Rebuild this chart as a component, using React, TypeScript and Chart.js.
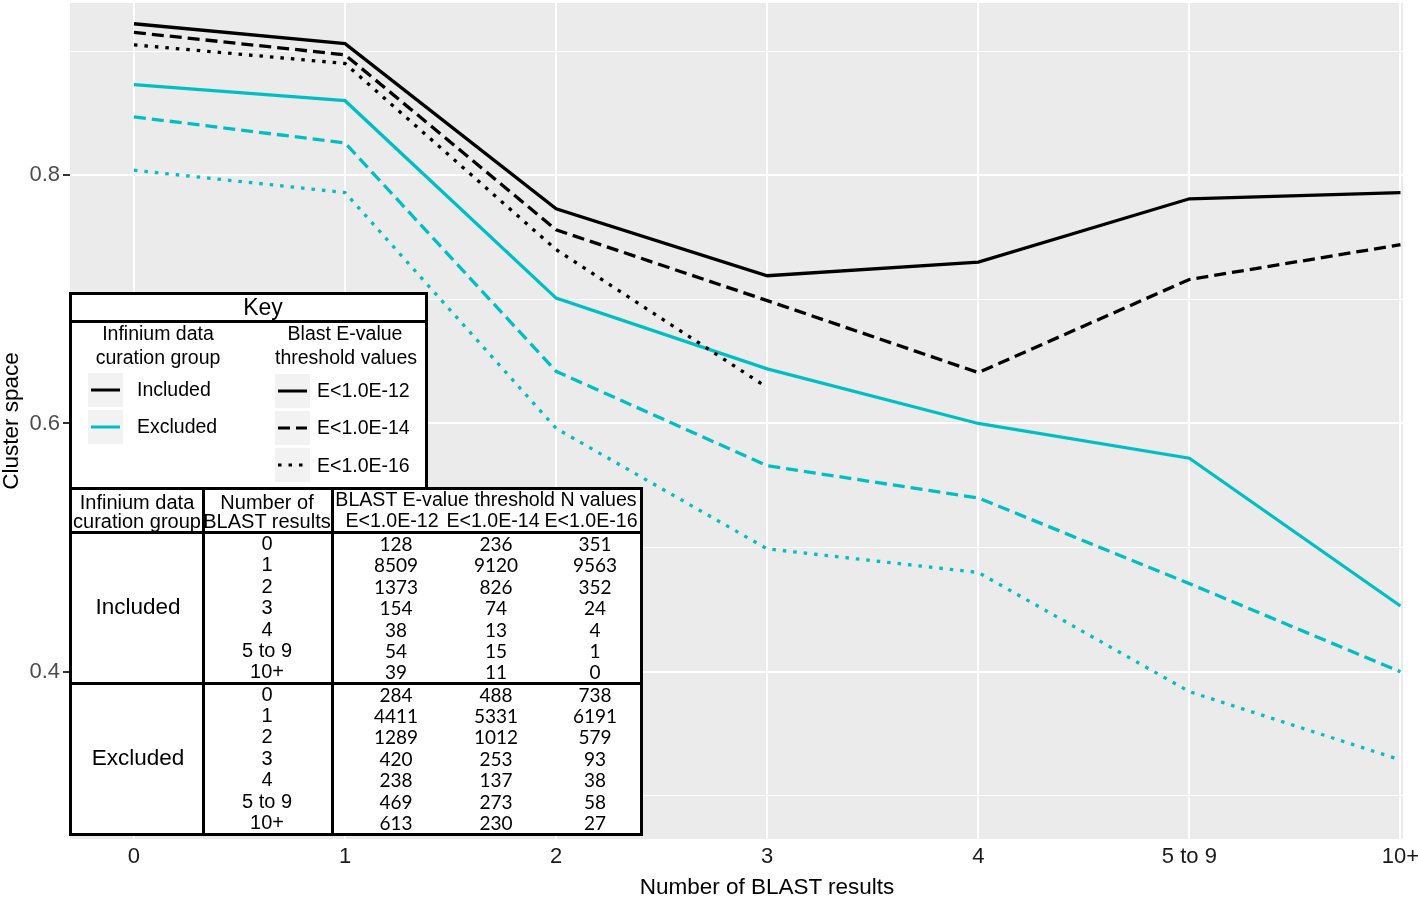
import React, { useEffect, useRef } from "react";
import { Chart, registerables } from "chart.js";

Chart.register(...registerables);

// ---------- data ----------
const categories = ["0", "1", "2", "3", "4", "5 to 9", "10+"];
const includedE12 = [0.922, 0.906, 0.773, 0.719, 0.73, 0.781, 0.786];
const includedE14 = [0.915, 0.897, 0.756, 0.699, 0.641, 0.716, 0.744];
const includedE16 = [0.905, 0.89, 0.74, 0.629, null, null, null];
const excludedE12 = [0.873, 0.86, 0.701, 0.644, 0.6, 0.572, 0.453];
const excludedE14 = [0.847, 0.826, 0.642, 0.566, 0.54, 0.471, 0.4];
const excludedE16 = [0.804, 0.786, 0.596, 0.499, 0.48, 0.384, 0.329];

const yGridValues = [0.3, 0.4, 0.5, 0.6, 0.7, 0.8, 0.9];
const yLabelValues = [0.4, 0.6, 0.8];

const xAxisTitle = "Number of BLAST results";
const yAxisTitle = "Cluster space";

const thresholdLabels = ["E<1.0E-12", "E<1.0E-14", "E<1.0E-16"];
const groupLabels = ["Included", "Excluded"];

const includedN12 = [128, 8509, 1373, 154, 38, 54, 39];
const includedN14 = [236, 9120, 826, 74, 13, 15, 11];
const includedN16 = [351, 9563, 352, 24, 4, 1, 0];
const excludedN12 = [284, 4411, 1289, 420, 238, 469, 613];
const excludedN14 = [488, 5331, 1012, 253, 137, 273, 230];
const excludedN16 = [738, 6191, 579, 93, 38, 58, 27];

// ---------- styles ----------
const BLACK = "#000000";
const CYAN = "#00BFC4";
const ARIAL = "'Liberation Sans', Arial, sans-serif";
const NUMFONT = "Lato, 'Noto Sans', sans-serif";
const DASHED = [12, 6];
const DOTTED = [3.5, 7];

const toPoints = (arr: (number | null)[]) => arr.map((v, i) => ({ x: i, y: v }));

const isLabeled = (v: number) => yLabelValues.some((l) => Math.abs(l - v) < 1e-9);

function T(props: {
  x: number;
  y: number;
  size: number;
  children: React.ReactNode;
  anchor?: "middle" | "start";
  family?: string;
  color?: string;
}) {
  const { x, y, size, children, anchor = "middle", family = ARIAL, color = "#000" } = props;
  return (
    <div
      style={{
        position: "absolute",
        left: x,
        top: y,
        transform: anchor === "middle" ? "translate(-50%, -50%)" : "translate(0, -50%)",
        fontFamily: family,
        fontSize: size,
        lineHeight: 1,
        whiteSpace: "nowrap",
        color,
      }}
    >
      {children}
    </div>
  );
}

function Box(props: { l: number; t: number; w: number; h: number; bg: string }) {
  return (
    <div
      style={{
        position: "absolute",
        left: props.l,
        top: props.t,
        width: props.w,
        height: props.h,
        background: props.bg,
      }}
    />
  );
}

function KeySwatch(props: { l: number; t: number; color: string; dash?: number[] }) {
  return (
    <div style={{ position: "absolute", left: props.l, top: props.t, width: 35, height: 34, background: "#F2F2F2" }}>
      <svg width={35} height={34} style={{ position: "absolute", left: 0, top: 0 }}>
        <line
          x1={3}
          y1={17}
          x2={32}
          y2={17}
          stroke={props.color}
          strokeWidth={3}
          strokeDasharray={props.dash ? props.dash.join(" ") : undefined}
        />
      </svg>
    </div>
  );
}

function Overlay() {
  const rowY0 = 543;
  const rowStep = 21.4;
  const groupOffset = 150.5;
  const numX = [396, 496, 595];
  const groups = [
    [includedN12, includedN14, includedN16],
    [excludedN12, excludedN14, excludedN16],
  ];
  return (
    <div style={{ position: "absolute", left: 0, top: 0, width: 1418, height: 898 }}>
      <T x={767} y={887} size={22.5}>{xAxisTitle}</T>

      {/* Key box */}
      <div
        style={{
          position: "absolute",
          left: 69,
          top: 292,
          width: 359,
          height: 198,
          boxSizing: "border-box",
          border: "3px solid #000",
          background: "#fff",
        }}
      />
      <Box l={69} t={320} w={359} h={2.5} bg="#000" />
      <T x={263} y={307} size={23}>Key</T>
      <T x={158} y={334} size={19.5}>Infinium data</T>
      <T x={158} y={358} size={19.5}>curation group</T>
      <T x={345} y={334} size={19.5}>Blast E-value</T>
      <T x={346} y={358} size={19.5}>threshold values</T>
      <KeySwatch l={88} t={373} color={BLACK} />
      <KeySwatch l={88} t={410} color={CYAN} />
      <T x={137} y={390} size={19.5} anchor="start">{groupLabels[0]}</T>
      <T x={137} y={427} size={19.5} anchor="start">{groupLabels[1]}</T>
      <KeySwatch l={275} t={374} color={BLACK} />
      <KeySwatch l={275} t={411} color={BLACK} dash={DASHED} />
      <KeySwatch l={275} t={448} color={BLACK} dash={DOTTED} />
      <T x={317} y={391} size={19.5} anchor="start">{thresholdLabels[0]}</T>
      <T x={317} y={428} size={19.5} anchor="start">{thresholdLabels[1]}</T>
      <T x={317} y={466} size={19.5} anchor="start">{thresholdLabels[2]}</T>

      {/* N table */}
      <div
        style={{
          position: "absolute",
          left: 69,
          top: 487,
          width: 574,
          height: 349,
          boxSizing: "border-box",
          border: "3px solid #000",
          background: "#fff",
        }}
      />
      <Box l={69} t={531} w={574} h={2.5} bg="#000" />
      <Box l={69} t={682} w={574} h={2.5} bg="#000" />
      <Box l={202} t={487} w={2.5} h={349} bg="#000" />
      <Box l={331} t={487} w={2.5} h={349} bg="#000" />
      <T x={137} y={502} size={20}>Infinium data</T>
      <T x={137} y={521} size={20}>curation group</T>
      <T x={267} y={502} size={20}>Number of</T>
      <T x={267} y={521} size={20}>BLAST results</T>
      <T x={486} y={500} size={19.6}>BLAST E-value threshold N values</T>
      {thresholdLabels.map((t, i) => (
        <T key={t} x={[392, 493, 591][i]} y={521} size={19.6}>
          {t}
        </T>
      ))}
      {groups.map((cols, g) => (
        <React.Fragment key={g}>
          <T x={138} y={rowY0 + g * groupOffset + 3 * rowStep} size={22.5}>
            {groupLabels[g]}
          </T>
          {categories.map((c, r) => (
            <React.Fragment key={c}>
              <T x={267} y={rowY0 + g * groupOffset + r * rowStep} size={20}>
                {c}
              </T>
              {cols.map((col, k) => (
                <T key={k} x={numX[k]} y={rowY0 + g * groupOffset + r * rowStep} size={19} family={NUMFONT}>
                  {String(col[r])}
                </T>
              ))}
            </React.Fragment>
          ))}
        </React.Fragment>
      ))}
    </div>
  );
}

const panelBg = {
  id: "panelBg",
  beforeDraw(chart: any) {
    const { ctx, chartArea, width, height } = chart;
    ctx.save();
    ctx.fillStyle = "#ffffff";
    ctx.fillRect(0, 0, width, height);
    ctx.fillStyle = "#EBEBEB";
    ctx.fillRect(chartArea.left, chartArea.top, chartArea.right - chartArea.left, chartArea.bottom - chartArea.top);
    ctx.restore();
  },
};

export default function App() {
  const ref = useRef<HTMLCanvasElement | null>(null);

  useEffect(() => {
    if (!ref.current) return;
    const mk = (label: string, data: (number | null)[], color: string, dash: number[]) => ({
      label,
      data: toPoints(data),
      borderColor: color,
      backgroundColor: color,
      borderWidth: 3.3,
      borderDash: dash,
      borderCapStyle: "butt" as const,
      pointRadius: 0,
      tension: 0,
      spanGaps: false,
      fill: false,
    });
    const chart = new Chart(ref.current, {
      type: "line",
      data: {
        datasets: [
          mk("Included E<1.0E-16", includedE16, BLACK, DOTTED),
          mk("Included E<1.0E-14", includedE14, BLACK, DASHED),
          mk("Included E<1.0E-12", includedE12, BLACK, []),
          mk("Excluded E<1.0E-16", excludedE16, CYAN, DOTTED),
          mk("Excluded E<1.0E-14", excludedE14, CYAN, DASHED),
          mk("Excluded E<1.0E-12", excludedE12, CYAN, []),
        ],
      },
      options: {
        animation: false,
        responsive: false,
        maintainAspectRatio: false,
        layout: { padding: { top: 3, right: 15, left: 0, bottom: 0 } },
        plugins: { legend: { display: false }, tooltip: { enabled: false } },
        scales: {
          x: {
            type: "linear",
            min: -0.303,
            max: 6.012,
            afterBuildTicks: (s: any) => {
              s.ticks = categories.map((_, i) => ({ value: i }));
            },
            afterFit: (s: any) => {
              s.height = 59;
              s.paddingLeft = 0;
              s.paddingRight = 0;
            },
            ticks: {
              autoSkip: false,
              maxRotation: 0,
              padding: 1,
              color: "#1a1a1a",
              font: { family: ARIAL, size: 22 },
              callback: (v: any) => categories[Math.round(Number(v))] ?? "",
            },
            grid: {
              color: "#ffffff",
              lineWidth: 2,
              tickLength: 4,
              tickColor: "rgba(0,0,0,0)",
            },
            border: { display: false },
            title: { display: false },
          },
          y: {
            type: "linear",
            min: 0.2653,
            max: 0.9387,
            afterBuildTicks: (s: any) => {
              s.ticks = yGridValues.map((v) => ({ value: v }));
            },
            afterFit: (s: any) => {
              s.width = 70;
              s.paddingTop = 0;
              s.paddingBottom = 0;
            },
            ticks: {
              padding: 3,
              color: "#4D4D4D",
              font: { family: ARIAL, size: 22 },
              callback: (v: any) => (isLabeled(Number(v)) ? Number(v).toFixed(1) : ""),
            },
            grid: {
              color: "#ffffff",
              lineWidth: (ctx: any) => (ctx.tick && isLabeled(ctx.tick.value) ? 2 : 1),
              tickLength: 7,
              tickWidth: 2,
              tickColor: (ctx: any) => (ctx.tick && isLabeled(ctx.tick.value) ? "#333333" : "rgba(0,0,0,0)"),
            },
            border: { display: false },
            title: {
              display: true,
              text: yAxisTitle,
              color: "#000",
              font: { family: ARIAL, size: 22.5, lineHeight: 1 },
              padding: { top: 1, bottom: 0 },
            },
          },
        },
      },
      plugins: [panelBg],
    });
    return () => chart.destroy();
  }, []);

  return (
    <div style={{ position: "absolute", left: 0, top: 0, width: 1418, height: 898, overflow: "hidden" }}>
      <canvas ref={ref} width={1418} height={898} style={{ display: "block", width: 1418, height: 898 }} />
      <Overlay />
    </div>
  );
}
